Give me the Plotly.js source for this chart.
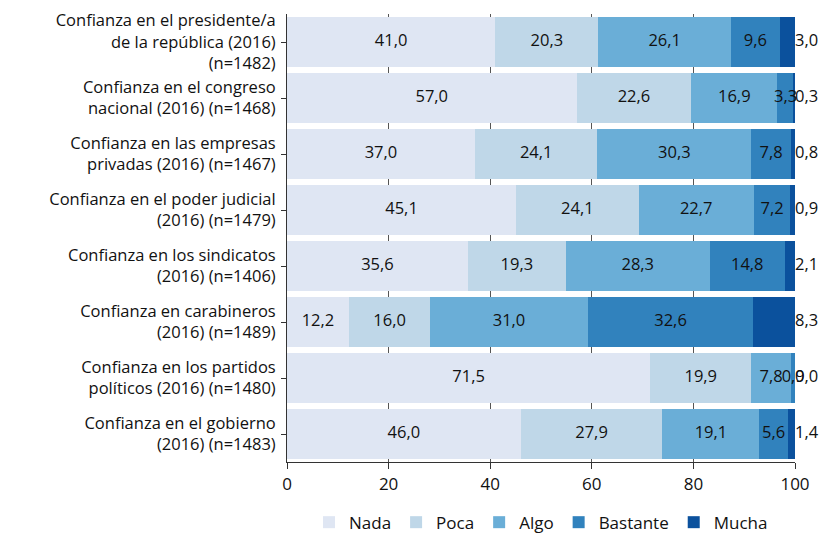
<!DOCTYPE html>
<html><head><meta charset="utf-8">
<script src="https://cdn.plot.ly/plotly-3.0.1.min.js"></script>
<style>body{margin:0}#c{width:825px;height:534px}</style>
</head><body><div id="c"></div>
<script>
const categories = [
  "Confianza en el presidente/a<br>de la república (2016)<br>(n=1482)",
  "Confianza en el congreso<br>nacional (2016) (n=1468)",
  "Confianza en las empresas<br>privadas (2016) (n=1467)",
  "Confianza en el poder judicial<br>(2016) (n=1479)",
  "Confianza en los sindicatos<br>(2016) (n=1406)",
  "Confianza en carabineros<br>(2016) (n=1489)",
  "Confianza en los partidos<br>políticos (2016) (n=1480)",
  "Confianza en el gobierno<br>(2016) (n=1483)"
];
const seriesNames = ["Nada", "Poca", "Algo", "Bastante", "Mucha"];
const nada     = [41.0, 57.0, 37.0, 45.1, 35.6, 12.2, 71.5, 46.0];
const poca     = [20.3, 22.6, 24.1, 24.1, 19.3, 16.0, 19.9, 27.9];
const algo     = [26.1, 16.9, 30.3, 22.7, 28.3, 31.0, 7.8, 19.1];
const bastante = [9.6, 3.3, 7.8, 7.2, 14.8, 32.6, 0.9, 5.6];
const mucha    = [3.0, 0.3, 0.8, 0.9, 2.1, 8.3, 0.0, 1.4];
const xTicks = [0, 20, 40, 60, 80, 100];
const xRange = [0, 100];

const colors = ["#dfe6f3", "#bfd7e8", "#6aaed7", "#3182bd", "#0b519d"];
const values = [nada, poca, algo, bastante, mucha];
const FONT = "Open Sans, sans-serif";
const fmt = v => v.toFixed(1).replace(".", ",");

const traces = values.map((v, i) => ({
  type: "bar", orientation: "h", name: seriesNames[i],
  y: categories, x: v,
  marker: {color: colors[i], line: {width: 0}},
  hoverinfo: "x+name"
}));
// label traces, positioned from the cumulative data
const cum = categories.map(() => 0);
values.forEach((v, i) => {
  const xs = v.map((val, k) => i === 4 ? Math.min(cum[k] + val, xRange[1]) : cum[k] + val / 2);
  traces.push({
    type: "scatter", mode: "text", y: categories, x: xs,
    text: v.map(fmt), showlegend: false, hoverinfo: "skip", cliponaxis: false,
    textposition: i === 4 ? "middle right" : "middle center",
    textfont: {color: "#111", size: 16.5, family: FONT}
  });
  v.forEach((val, k) => cum[k] += val);
});

const layout = {
  width: 825, height: 534,
  margin: {l: 287, r: 30, t: 14, b: 72},
  barmode: "stack", bargap: 0.09,
  separators: ",.",
  paper_bgcolor: "#fff", plot_bgcolor: "#fff",
  font: {family: FONT, size: 16, color: "#111"},
  xaxis: {range: xRange, tickvals: xTicks, ticktext: xTicks.map(String),
    showgrid: true, gridcolor: "#555", gridwidth: 1, dtick: 10,
    ticks: "outside", ticklen: 6, tickcolor: "#333", ticklabelstandoff: 1,
    showline: true, linecolor: "#333", linewidth: 1, zeroline: false,
    tickfont: {size: 17, family: FONT}},
  yaxis: {autorange: "reversed", ticks: "outside", ticklen: 5, tickcolor: "#333",
    showline: true, linecolor: "#333", linewidth: 1, ticklabelstandoff: 2,
    tickfont: {size: 16.5, family: FONT, color: "#111"}},
  legend: {orientation: "h", x: 0.5, xanchor: "center", xref: "paper",
    yref: "container", y: 0.055, yanchor: "top",
    font: {size: 17, family: FONT}, traceorder: "normal", itemwidth: 30},
  showlegend: true
};
Plotly.newPlot("c", traces, layout, {displayModeBar: false});
</script></body></html>
